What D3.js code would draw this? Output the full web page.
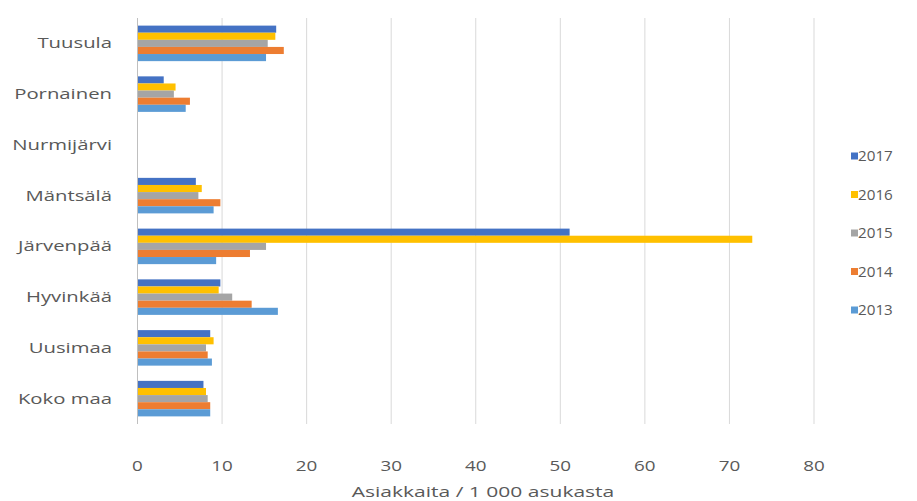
<!DOCTYPE html>
<html><head><meta charset="utf-8">
<script src="https://cdn.jsdelivr.net/npm/d3@7"></script>
<style>body{margin:0;background:#fff}text{font-family:"Open Sans",Lato,sans-serif}</style>
</head><body>
<svg id="c" width="917" height="501"></svg>
<script>
const categories = ["Tuusula","Pornainen","Nurmijärvi","Mäntsälä","Järvenpää","Hyvinkää","Uusimaa","Koko maa"];
const years = ["2017","2016","2015","2014","2013"];
const colors = ["#4472C4","#FFC000","#A5A5A5","#ED7D31","#5B9BD5"];
const v2017 = [16.4, 3.1, null, 6.9, 51.1, 9.8, 8.6, 7.8];
const v2016 = [16.3, 4.5, null, 7.6, 72.7, 9.6, 9.0, 8.1];
const v2015 = [15.4, 4.3, null, 7.2, 15.2, 11.2, 8.1, 8.3];
const v2014 = [17.3, 6.2, null, 9.8, 13.3, 13.5, 8.3, 8.6];
const v2013 = [15.2, 5.7, null, 9.0, 9.3, 16.6, 8.8, 8.6];
const xTicks = [0,10,20,30,40,50,60,70,80];
const axisTitle = "Asiakkaita / 1 000 asukasta";

const series = [v2017, v2016, v2015, v2014, v2013];
const svg = d3.select("#c");
const x = d3.scaleLinear().domain([0,80]).range([137.5,814]);
const y = d3.scaleBand().domain(categories).range([18,424]).paddingInner(0.3).paddingOuter(0.15);
const ySub = d3.scaleBand().domain(years).range([0,y.bandwidth()]);
const textCol = "#595959";

function label(parent, tx, ty, str, size, anchor, sx){
  const g = parent.append("g").attr("transform",`translate(${tx},${ty}) scale(${sx},1)`);
  g.append("text").attr("x",0).attr("y",0).attr("dy","0.35em")
    .attr("text-anchor",anchor).attr("font-size",size).attr("fill",textCol).text(str);
}

// gridlines
svg.append("g").selectAll("line").data(xTicks).join("line")
  .attr("x1",d=>x(d)).attr("x2",d=>x(d)).attr("y1",18).attr("y2",424)
  .attr("stroke","#d9d9d9").attr("stroke-width",1);

// bars
categories.forEach((c,i)=>{
  series.forEach((s,j)=>{
    if(s[i]==null) return;
    svg.append("rect").attr("x",x(0)).attr("y",y(c)+ySub(years[j]))
      .attr("width",x(s[i])-x(0)).attr("height",ySub.bandwidth())
      .attr("fill",colors[j]);
  });
});

// y axis line
svg.append("line").attr("x1",x(0)).attr("x2",x(0)).attr("y1",18).attr("y2",424).attr("stroke","#bfbfbf");

const gl = svg.append("g");
categories.forEach(c=>label(gl, 112, y(c)+y.bandwidth()/2, c, 14.5, "end", 1.4));
xTicks.forEach(t=>label(gl, x(t), 466, String(t), 14.5, "middle", 1.3));
label(gl, 483, 492, axisTitle, 14.5, "middle", 1.45);

// legend
years.forEach((yr,j)=>{
  const ly = 156 + j*38.5;
  svg.append("rect").attr("x",851).attr("y",ly-3.5).attr("width",7).attr("height",7).attr("fill",colors[j]);
  label(gl, 858, ly, yr, 14.5, "start", 1.05);
});
</script>
</body></html>
